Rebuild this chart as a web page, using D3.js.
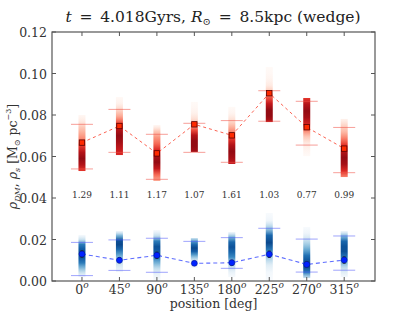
<!DOCTYPE html>
<html>
<head>
<meta charset="utf-8">
<script src="https://cdn.jsdelivr.net/npm/d3@7"></script>
<style>
  body { margin: 0; background: #fff; }
</style>
</head>
<body>
<svg id="chart" width="415" height="313"></svg>
<script>
// positions (deg)
const positions = [0, 45, 90, 135, 180, 225, 270, 315];
const ratios = ['1.29', '1.11', '1.17', '1.07', '1.61', '1.03', '0.77', '0.99'];

// rho_DM (red)
const dmCenter = [0.0667, 0.0747, 0.0615, 0.0755, 0.0702, 0.0905, 0.0741, 0.0638];
const dmUpper  = [0.0755, 0.0827, 0.0707, 0.0760, 0.0773, 0.0917, 0.0866, 0.0740];
const dmLower  = [0.0540, 0.0620, 0.0490, 0.0620, 0.0572, 0.0770, 0.0655, 0.0522];
const dmTop    = [0.0800, 0.0887, 0.0752, 0.0863, 0.0839, 0.1031, 0.0882, 0.0781];
const dmBottom = [0.0530, 0.0607, 0.0482, 0.0622, 0.0564, 0.0766, 0.0602, 0.0501];
// density along each strip, top -> bottom
const dmDensity = [
  [0.05, 0.15, 0.3, 0.4, 0.5, 0.65, 0.85, 0.95, 0.85, 0.65],
  [0.03, 0.1, 0.25, 0.4, 0.6, 0.85, 0.95, 0.9, 0.8, 0.7],
  [0.05, 0.3, 0.45, 0.55, 0.7, 0.9, 0.95, 0.8, 0.55, 0.4],
  [0.02, 0.05, 0.1, 0.2, 0.35, 0.6, 0.85, 0.95, 0.95, 0.9],
  [0.02, 0.08, 0.2, 0.35, 0.5, 0.65, 0.85, 0.95, 0.9, 0.8],
  [0.02, 0.04, 0.08, 0.15, 0.3, 0.6, 0.8, 0.95, 0.95, 0.85],
  [0.65, 0.85, 0.95, 0.9, 0.75, 0.5, 0.3, 0.15, 0.08, 0.02],
  [0.1, 0.25, 0.35, 0.5, 0.65, 0.85, 0.95, 0.9, 0.7, 0.5]
];

// rho_s (blue)
const sCenter = [0.0130, 0.0100, 0.0124, 0.0085, 0.0088, 0.0129, 0.0080, 0.0101];
const sErr    = [0.0015, 0.0012, 0.0015, 0.0010, 0.0012, 0.0015, 0.0012, 0.0015];
const sUpper  = [0.0186, 0.0198, 0.0206, 0.0191, 0.0209, 0.0254, 0.0202, 0.0217];
const sLower  = [0.0026, 0.0051, 0.0042, null, 0.0061, null, 0.0043, 0.0052];
const sTop    = [0.0222, 0.0241, 0.0246, 0.0207, 0.0236, 0.0328, 0.0260, 0.0241];
const sBottom = [0.0019, 0.0043, 0.0005, 0.0063, 0.0019, 0.0005, 0.0014, 0.0019];
const sDensity = [
  [0.05, 0.3, 0.7, 0.85, 0.9, 0.85, 0.7, 0.5, 0.3, 0.1],
  [0.1, 0.5, 0.9, 0.95, 0.8, 0.6, 0.45, 0.3, 0.2, 0.1],
  [0.05, 0.3, 0.7, 0.9, 0.85, 0.7, 0.5, 0.3, 0.15, 0.05],
  [0.3, 0.6, 0.8, 0.95, 0.85, 0.6, 0.4, 0.2, 0.1, 0.05],
  [0.1, 0.5, 0.8, 0.9, 0.8, 0.65, 0.45, 0.3, 0.15, 0.05],
  [0.02, 0.1, 0.4, 0.8, 0.95, 0.7, 0.4, 0.2, 0.08, 0.03],
  [0.03, 0.1, 0.25, 0.4, 0.55, 0.75, 0.9, 0.95, 0.7, 0.3],
  [0.1, 0.5, 0.8, 0.9, 0.9, 0.75, 0.55, 0.35, 0.2, 0.08]
];

const yTicks = [0, 0.02, 0.04, 0.06, 0.08, 0.10, 0.12];

const margin = { top: 32, right: 40, bottom: 32, left: 52 };
const width = 415, height = 313;
const serif = 'DejaVu Serif';

const svg = d3.select('#chart').style('font-family', serif);
const defs = svg.append('defs');

const x = d3.scaleLinear().domain([-36, 352]).range([margin.left, width - margin.right]);
const y = d3.scaleLinear().domain([0, 0.12]).range([height - margin.bottom, margin.top]);

const axisColor = '#555';

// density strips
function drawStrips(cls, tops, bottoms, dens, interp, lo) {
  positions.forEach((p, i) => {
    const id = cls + '-grad-' + i;
    const grad = defs.append('linearGradient')
      .attr('id', id).attr('x1', 0).attr('x2', 0).attr('y1', 0).attr('y2', 1);
    const n = dens[i].length;
    dens[i].forEach((v, k) => {
      grad.append('stop')
        .attr('offset', (k / (n - 1)) * 100 + '%')
        .attr('stop-color', interp(lo + (0.95 - lo) * v))
        .attr('stop-opacity', Math.min(1, 0.15 + v * 1.3));
    });
    svg.append('rect')
      .attr('class', cls)
      .attr('x', x(p) - 3.5)
      .attr('width', 7)
      .attr('y', y(tops[i]))
      .attr('height', y(bottoms[i]) - y(tops[i]))
      .attr('fill', 'url(#' + id + ')');
  });
}
drawStrips('dm', dmTop, dmBottom, dmDensity, d3.interpolateReds, 0.1);
drawStrips('s', sTop, sBottom, sDensity, d3.interpolateBlues, 0.15);

// horizontal range lines
function drawRange(vals, color) {
  svg.append('g').selectAll('line')
    .data(positions.map((p, i) => ({ p, v: vals[i] })).filter(d => d.v !== null))
    .enter().append('line')
    .attr('x1', d => x(d.p) - 11)
    .attr('x2', d => x(d.p) + 11)
    .attr('y1', d => y(d.v))
    .attr('y2', d => y(d.v))
    .attr('stroke', color)
    .attr('stroke-width', 1);
}
drawRange(dmUpper, 'rgba(240,80,70,0.55)');
drawRange(dmLower, 'rgba(240,80,70,0.55)');
drawRange(sUpper, 'rgba(80,90,250,0.55)');
drawRange(sLower, 'rgba(80,90,250,0.55)');

// dashed connecting lines
const line = vals => d3.line().x((d, i) => x(positions[i])).y(d => y(d))(vals);
svg.append('path')
  .attr('d', line(dmCenter))
  .attr('fill', 'none')
  .attr('stroke', 'rgba(250,60,40,0.8)')
  .attr('stroke-width', 1)
  .attr('stroke-dasharray', '3,3');
svg.append('path')
  .attr('d', line(sCenter))
  .attr('fill', 'none')
  .attr('stroke', 'rgba(40,60,255,0.75)')
  .attr('stroke-width', 1.1)
  .attr('stroke-dasharray', '4,3');

// blue error bars
const errG = svg.append('g');
positions.forEach((p, i) => {
  errG.append('line')
    .attr('x1', x(p)).attr('x2', x(p))
    .attr('y1', y(sCenter[i] + sErr[i])).attr('y2', y(sCenter[i] - sErr[i]))
    .attr('stroke', '#222').attr('stroke-width', 1);
  [sCenter[i] + sErr[i], sCenter[i] - sErr[i]].forEach(v => {
    errG.append('line')
      .attr('x1', x(p) - 1.5).attr('x2', x(p) + 1.5)
      .attr('y1', y(v)).attr('y2', y(v))
      .attr('stroke', '#222').attr('stroke-width', 1);
  });
});

// markers
svg.append('g').selectAll('rect')
  .data(dmCenter)
  .enter().append('rect')
  .attr('x', (d, i) => x(positions[i]) - 2.7)
  .attr('y', d => y(d) - 2.7)
  .attr('width', 5.4).attr('height', 5.4)
  .attr('fill', '#ff2a00')
  .attr('stroke', '#5a0000')
  .attr('stroke-width', 0.8);

svg.append('g').selectAll('circle')
  .data(sCenter)
  .enter().append('circle')
  .attr('cx', (d, i) => x(positions[i]))
  .attr('cy', d => y(d))
  .attr('r', 3)
  .attr('fill', '#0022ff')
  .attr('stroke', '#001080')
  .attr('stroke-width', 0.5);

// ratio labels
svg.append('g').selectAll('text')
  .data(ratios)
  .enter().append('text')
  .attr('x', (d, i) => x(positions[i]))
  .attr('y', 198)
  .attr('text-anchor', 'middle')
  .attr('font-size', 9)
  .attr('fill', '#333')
  .text(d => d);

// frame
svg.append('rect')
  .attr('x', margin.left).attr('y', margin.top)
  .attr('width', width - margin.left - margin.right)
  .attr('height', height - margin.top - margin.bottom)
  .attr('fill', 'none')
  .attr('stroke', axisColor)
  .attr('stroke-width', 1.2);

// ticks (inward)
const tk = svg.append('g').attr('stroke', axisColor).attr('stroke-width', 1);
yTicks.forEach(t => {
  tk.append('line').attr('x1', margin.left).attr('x2', margin.left + 4).attr('y1', y(t)).attr('y2', y(t));
  tk.append('line').attr('x1', width - margin.right).attr('x2', width - margin.right - 4).attr('y1', y(t)).attr('y2', y(t));
});
positions.forEach(p => {
  tk.append('line').attr('x1', x(p)).attr('x2', x(p)).attr('y1', margin.top).attr('y2', margin.top + 4);
  tk.append('line').attr('x1', x(p)).attr('x2', x(p)).attr('y1', height - margin.bottom).attr('y2', height - margin.bottom - 4);
});

// y tick labels
svg.append('g').selectAll('text')
  .data(yTicks)
  .enter().append('text')
  .attr('x', margin.left - 5)
  .attr('y', d => y(d) + 5)
  .attr('text-anchor', 'end')
  .attr('font-size', 12.5)
  .attr('fill', '#333')
  .text(d => d3.format('.2f')(d));

// x tick labels
const xl = svg.append('g').selectAll('text')
  .data(positions)
  .enter().append('text')
  .attr('x', d => x(d))
  .attr('y', 294)
  .attr('text-anchor', 'middle')
  .attr('font-size', 12.5)
  .attr('fill', '#333');
xl.append('tspan').text(d => d);
xl.append('tspan').attr('font-style', 'italic').attr('font-size', 9).attr('dy', -6).text('o');

// x label
svg.append('text')
  .attr('x', (margin.left + width - margin.right) / 2)
  .attr('y', 308)
  .attr('text-anchor', 'middle')
  .attr('font-size', 12.5)
  .attr('fill', '#333')
  .text('position [deg]');

// y label
const yl = svg.append('text')
  .attr('transform', `translate(17,${(margin.top + height - margin.bottom) / 2}) rotate(-90)`)
  .attr('text-anchor', 'middle')
  .attr('font-size', 12.5)
  .attr('fill', '#333');
yl.append('tspan').attr('font-style', 'italic').text('ρ');
yl.append('tspan').attr('font-style', 'italic').attr('font-size', 8).attr('dy', 3).text('DM');
yl.append('tspan').attr('dy', -3).text(', ');
yl.append('tspan').attr('font-style', 'italic').text('ρ');
yl.append('tspan').attr('font-style', 'italic').attr('font-size', 8).attr('dy', 3).text('s');
yl.append('tspan').attr('dy', -3).text(' [M');
yl.append('tspan').attr('font-size', 8).attr('dy', 3).text('⊙');
yl.append('tspan').attr('dy', -3).text(' pc');
yl.append('tspan').attr('font-size', 8).attr('dy', -6).text('−3');
yl.append('tspan').attr('dy', 6).text(']');

// title
const title = svg.append('text')
  .attr('x', 213)
  .attr('y', 22)
  .attr('text-anchor', 'middle')
  .attr('font-size', 15.5)
  .attr('fill', '#222');
title.append('tspan').attr('font-style', 'italic').text('t');
title.append('tspan').text('\u2002=\u20024.018Gyrs, ');
title.append('tspan').attr('font-style', 'italic').text('R');
title.append('tspan').attr('font-size', 10).attr('dy', 3).text('⊙');
title.append('tspan').attr('dy', -3).text('\u2002=\u20028.5kpc (wedge)');
</script>
</body>
</html>
